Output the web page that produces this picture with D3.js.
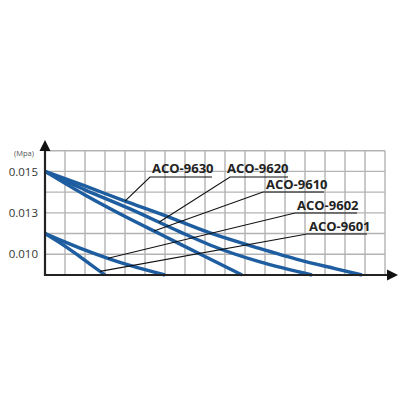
<!DOCTYPE html>
<html><head><meta charset="utf-8">
<script src="https://cdn.jsdelivr.net/npm/d3@7"></script>
<style>body{margin:0;background:#fff}svg{display:block}</style>
</head><body>
<svg id="c" width="400" height="400"></svg>
<script>
// grid units: x 0..17 columns, y 0..6 rows
const seriesNames = ["ACO-9630","ACO-9620","ACO-9610","ACO-9602","ACO-9601"];
const xA = [0,2,4,6,8.25,10.5,12.75,14.5,15.85];
const yA = [5,4.30,3.57,2.87,2.03,1.35,0.72,0.31,0];
const xB = [0,2,4.25,6.75,8.25,10.75,13.35];
const yB = [5,4.11,3.19,2.08,1.45,0.63,0];
const xC = [0,2,4.25,5.75,7.75,9.85];
const yC = [5,3.86,2.70,1.98,1.01,0];
const xD = [0,1.75,3.25,4.25,6];
const yD = [2,1.30,0.77,0.46,0];
const xE = [0,0.75,1.5,2.25,3];
const yE = [2,1.55,1.06,0.53,0];
const tickPos = [5,3,1];
const tickLabels = ["0.015","0.013","0.010"];
const unitLabel = "(Mpa)";
const leaderX = [4.0,5.7,5.45,3.15,2.75];

const svg = d3.select("#c");
const x = d3.scaleLinear().domain([0,17]).range([45,385]);
const y = d3.scaleLinear().domain([0,6]).range([275,150.7]);

// grid
const g = svg.append("g");
g.selectAll(".v").data(d3.range(1,18)).enter().append("line")
  .attr("x1",d=>x(d)).attr("x2",d=>x(d)).attr("y1",y(0)).attr("y2",y(6))
  .attr("stroke","#b3b3b3").attr("stroke-width",1.4);
g.selectAll(".h").data(d3.range(1,7)).enter().append("line")
  .attr("x1",x(0)).attr("x2",x(17)).attr("y1",d=>y(d)).attr("y2",d=>y(d))
  .attr("stroke","#b3b3b3").attr("stroke-width",1.4);

// curves
const data = [[xA,yA],[xB,yB],[xC,yC],[xD,yD],[xE,yE]].map(([xs,ys])=>xs.map((v,i)=>[v,ys[i]]));
const line = d3.line().x(d=>x(d[0])).y(d=>y(d[1])).curve(d3.curveMonotoneX);
svg.append("g").selectAll("path").data(data).enter().append("path")
  .attr("d",line).attr("fill","none").attr("stroke","#1d5da0").attr("stroke-width",3.4);

// axes
svg.append("line").attr("x1",x(0)).attr("x2",390).attr("y1",y(0)).attr("y2",y(0))
  .attr("stroke","#222").attr("stroke-width",2.2);
svg.append("path").attr("d","M387,269.5L398,275L387,280.5Z").attr("fill","#111");
svg.append("line").attr("x1",x(0)).attr("x2",x(0)).attr("y1",y(0)+1).attr("y2",148)
  .attr("stroke","#222").attr("stroke-width",2.2);
svg.append("path").attr("d","M39.5,151L45,140L50.5,151Z").attr("fill","#111");

// tick labels
svg.append("g").selectAll("text").data(tickPos).enter().append("text")
  .attr("x",38).attr("y",d=>y(d)).attr("dy","0.36em").attr("text-anchor","end")
  .attr("font-family","Open Sans").attr("font-size",11.5).attr("fill","#333")
  .text((d,i)=>tickLabels[i]);
svg.append("text").attr("x",14).attr("y",156).attr("font-family","Open Sans")
  .attr("font-size",7.5).attr("fill","#555").text(unitLabel);

// labels with leaders
const labelPos = [[152,173,150,177,212],[227,173,230,177,288],[266,189,263,192,324],[297,210,295,213,357],[309,231,307,234,367]];
function interp(s,xv){const d=data[s];for(let i=1;i<d.length;i++){if(xv<=d[i][0]){const t=(xv-d[i-1][0])/(d[i][0]-d[i-1][0]);return d[i-1][1]+t*(d[i][1]-d[i-1][1]);}}return 0;}
seriesNames.forEach((n,i)=>{
  const p = labelPos[i];
  svg.append("polyline")
    .attr("points",`${x(leaderX[i])},${y(interp(i,leaderX[i]))} ${p[2]},${p[3]} ${p[4]},${p[3]}`)
    .attr("fill","none").attr("stroke","#111").attr("stroke-width",1.1);
  svg.append("text").attr("x",p[0]).attr("y",p[1]).attr("font-family","Open Sans")
    .attr("font-weight","bold").attr("font-size",13).attr("fill","#222").text(n);
});
</script>
</body></html>
